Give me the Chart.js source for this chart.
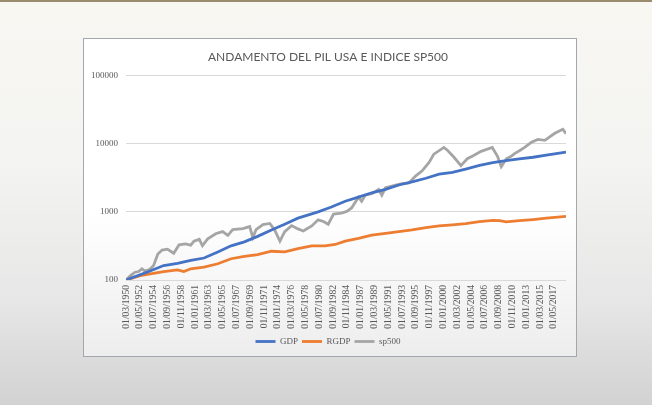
<!DOCTYPE html>
<html><head><meta charset="utf-8">
<script src="https://cdn.jsdelivr.net/npm/chart.js@4.4.1/dist/chart.umd.min.js"></script>
<style>
html,body{margin:0;padding:0;width:652px;height:405px;overflow:hidden;}
body{background:linear-gradient(to bottom,#f8f7f2 0%,#f4f4f2 40%,#e6e6e6 75%,#d2d2d2 100%);position:relative;}
#strip{position:absolute;left:0;top:0;width:652px;height:2px;background:#9b8c70;}
#box{position:absolute;left:83px;top:38px;width:492px;height:317px;border:1.5px solid #a3a7ae;background:linear-gradient(to bottom,#ffffff 0%,#ffffff 55%,#ededed 100%);}
#wrap{position:absolute;left:0;top:0;width:492px;height:317px;}
</style></head>
<body>
<div id="strip"></div>
<div id="box"><div id="wrap"><canvas id="c"></canvas></div></div>
<script>
// months counted from 01/03/1950
const tickLabels = ["01/03/1950","01/05/1952","01/07/1954","01/09/1956","01/11/1958","01/01/1961","01/03/1963","01/05/1965","01/07/1967","01/09/1969","01/11/1971","01/01/1974","01/03/1976","01/05/1978","01/07/1980","01/09/1982","01/11/1984","01/01/1987","01/03/1989","01/05/1991","01/07/1993","01/09/1995","01/11/1997","01/01/2000","01/03/2002","01/05/2004","01/07/2006","01/09/2008","01/11/2010","01/01/2013","01/03/2015","01/05/2017"];
const tickMonths = [0,26,52,78,104,130,156,182,208,234,260,286,312,338,364,390,416,442,468,494,520,546,572,598,624,650,676,702,728,754,780,806];
const lastMonth = 829;
const yTicks = [100,1000,10000,100000];

const gdpMonths = [0,43,71,97,122,147,173,198,223,248,274,299,324,362,387,413,438,463,489,514,539,565,590,615,640,666,691,716,741,767,792,829];
const gdpValues = [100,133,163,175,194,210,258,317,363,436,542,658,808,1000,1177,1429,1640,1901,2131,2472,2739,3106,3563,3773,4228,4795,5252,5624,5957,6307,6752,7482];

const rgdpMonths = [0,27,46,71,97,109,122,147,173,198,223,248,274,299,324,350,375,394,413,438,463,489,514,539,565,590,615,640,666,691,704,716,741,767,792,829];
const rgdpValues = [100,116,123,133,141,133,146,154,173,205,222,235,264,258,289,317,317,332,372,407,456,483,512,542,587,621,643,672,720,746,740,710,740,770,808,855];

const spMonths = [0,8,17,24,30,36,40,45,52,60,68,78,87,90,100,112,122,128,138,144,154,169,182,192,201,220,233,239,245,258,271,280,290,299,312,324,334,350,362,372,381,391,406,416,425,438,444,451,463,476,482,489,508,520,533,546,558,571,580,599,606,618,631,643,655,669,690,700,707,717,725,732,742,751,764,776,789,808,823,829];
const spValues = [100,115,130,133,146,135,139,144,163,240,275,283,255,246,328,339,324,372,395,320,402,477,512,450,548,568,607,420,548,651,675,542,372,512,628,561,524,621,763,721,658,926,959,1015,1138,1640,1429,1755,1837,2131,1755,2257,2472,2588,2649,3365,3993,5313,7000,8780,7925,6300,4740,6000,6676,7700,8780,6500,4581,6025,6450,7148,7925,8780,10500,11540,11160,14190,16260,14000];

const toPts = (ms, vs) => ms.map((m, i) => ({x: m, y: vs[i]}));
const serif = 'Liberation Serif';
const grey = '#595959';

new Chart(document.getElementById('c'), {
  type: 'line',
  data: {
    datasets: [
      {label: 'GDP', data: toPts(gdpMonths, gdpValues), borderColor: '#4472c4', backgroundColor: '#4472c4', borderWidth: 2.8, pointRadius: 0, tension: 0},
      {label: 'RGDP', data: toPts(rgdpMonths, rgdpValues), borderColor: '#ed7d31', backgroundColor: '#ed7d31', borderWidth: 2.8, pointRadius: 0, tension: 0},
      {label: 'sp500', data: toPts(spMonths, spValues), borderColor: '#a5a5a5', backgroundColor: '#a5a5a5', borderWidth: 2.8, pointRadius: 0, tension: 0}
    ]
  },
  options: {
    responsive: true,
    maintainAspectRatio: false,
    animation: false,
    devicePixelRatio: 1,
    layout: {padding: {left: 6, right: 10, top: 0, bottom: 0}},
    scales: {
      x: {
        type: 'linear', min: 0, max: lastMonth,
        grid: {display: false, drawTicks: false}, border: {display: false},
        afterBuildTicks: s => { s.ticks = tickMonths.map(v => ({value: v})); },
        afterFit: s => { s.height = 53; },
        ticks: {autoSkip: false, minRotation: 90, maxRotation: 90, padding: 5, color: grey,
          font: {family: serif, size: 9.6},
          callback: (v, i) => tickLabels[i]}
      },
      y: {
        type: 'logarithmic', min: 100, max: 100000,
        grid: {color: '#d9d9d9', lineWidth: 1, drawTicks: false}, border: {display: false},
        afterBuildTicks: s => { s.ticks = yTicks.map(v => ({value: v})); },
        afterFit: s => { s.width = 36; },
        ticks: {padding: 8, color: grey, font: {family: serif, size: 9}, callback: v => String(v)}
      }
    },
    plugins: {
      title: {display: true, text: 'ANDAMENTO DEL PIL USA E INDICE SP500', color: grey,
        font: {family: 'Lato', size: 12, weight: 'normal'}, padding: {top: 11, bottom: 11}},
      legend: {position: 'bottom',
        labels: {usePointStyle: true, pointStyle: 'line', pointStyleWidth: 20, padding: 4, color: grey,
          font: {family: serif, size: 9}}},
      tooltip: {enabled: false}
    }
  }
});
</script>
</body></html>
